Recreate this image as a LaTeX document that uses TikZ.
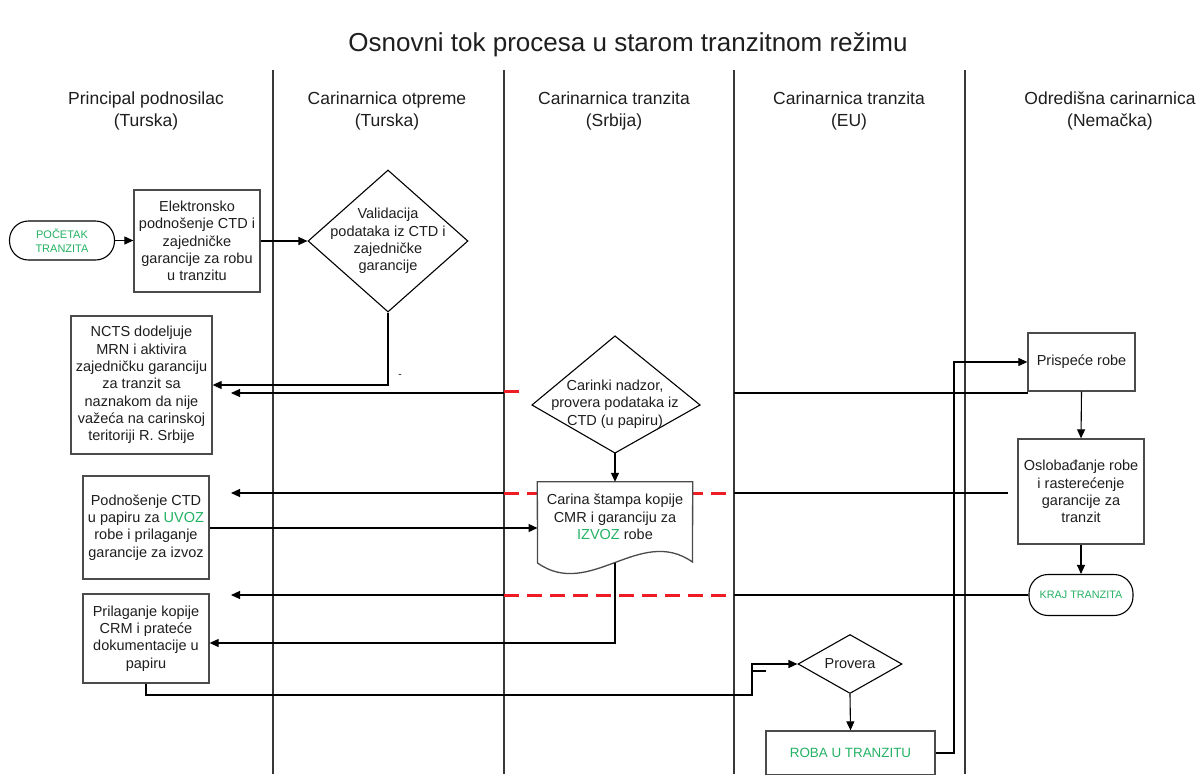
\documentclass[tikz,border=0pt]{standalone}
\usepackage{fontspec}
\setmainfont{Liberation Sans}
\usetikzlibrary{shapes.geometric,arrows.meta}

\definecolor{tgreen}{RGB}{36,178,100}
\definecolor{lanegray}{RGB}{55,55,55}
\definecolor{boxgray}{RGB}{75,75,75}
\definecolor{txtgray}{RGB}{30,30,30}
\definecolor{dashred}{RGB}{238,28,36}

\newcommand\bodyfont{\fontsize{14.5}{17.3}\selectfont}
\newcommand\headfont{\fontsize{17.5}{22}\selectfont}

\begin{document}
\begin{tikzpicture}[x=1pt,y=-1pt,
  lane/.style={draw=lanegray, line width=1.1pt},
  box/.style={draw=boxgray, line width=1.3pt, fill=white, align=center,
    inner sep=1pt, font=\bodyfont, text=txtgray},
  term/.style={draw=black, line width=1.1pt, fill=white, rounded corners=19pt,
    align=center, inner sep=1pt, text=tgreen},
  dia/.style={diamond, draw=black, line width=1.1pt, fill=white, inner sep=0pt},
  txt/.style={align=center, font=\bodyfont, text=txtgray, inner sep=0pt},
  head/.style={align=center, font=\headfont, text=txtgray},
  line/.style={draw=black, line width=1.1pt},
  conn/.style={line, -{Triangle[length=9pt,width=8pt]}},
  reddash/.style={draw=dashred, line width=3pt, dash pattern=on 15pt off 8pt},
]
\clip (0,0) rectangle (1197,774);
\fill[white] (0,0) rectangle (1197,774);

% title and lane headers
\node[font=\fontsize{26}{30}\selectfont, text=txtgray] (title) at (628,45)
  {Osnovni tok procesa u starom tranzitnom režimu};
\node[head] (h1) at (146,111) {Principal podnosilac\\(Turska)};
\node[head] (h2) at (387,111) {Carinarnica otpreme\\(Turska)};
\node[head] (h3) at (614,111) {Carinarnica tranzita\\(Srbija)};
\node[head] (h4) at (849,111) {Carinarnica tranzita\\(EU)};
\node[head] (h5) at (1110,111) {Odredišna carinarnica\\(Nemačka)};

% swimlane separators
\foreach \x in {273,504,734,965}
  \draw[lane] (\x,70) -- (\x,774);

% dashed red markers across the Serbian lane (behind the shapes)
\coordinate (ra) at (504,391);
\coordinate (rb) at (519,391);
\coordinate (rc) at (504,493);
\coordinate (rd) at (734,493);
\coordinate (re) at (504,595);
\coordinate (rf) at (734,595);
\draw[reddash] (ra) -- (rb);
\draw[reddash] (rc) -- (rd);
\draw[reddash] (re) -- (rf);

% process steps
\node[term, minimum width=105, minimum height=39,
  font=\fontsize{11}{14}\selectfont] (start) at (62,240.5) {POČETAK\\TRANZITA};
\node[box, minimum width=126, minimum height=102] (elek) at (197,241)
  {Elektronsko\\podnošenje CTD i\\zajedničke\\garancije za robu\\u tranzitu};
\node[dia, minimum width=160, minimum height=142] (val) at (388,241) {};
\node[txt] (valtext) at (388,241)
  {Validacija\\podataka iz CTD i\\zajedničke\\garancije};

\node[box, minimum width=141, minimum height=138] (ncts) at (141.5,385)
  {NCTS dodeljuje\\MRN i aktivira\\zajedničku garanciju\\za tranzit sa\\naznakom da nije\\važeća na carinskoj\\teritoriji R. Srbije};

% customs supervision decision (kite-shaped)
\coordinate (nz-n) at (615,336);
\coordinate (nz-e) at (700,405);
\coordinate (nz-s) at (615,453);
\coordinate (nz-w) at (532,405);
\draw[line, fill=white] (nz-n) -- (nz-e) -- (nz-s) -- (nz-w) -- cycle;
\node[txt] (nadzor) at (615,404)
  {Carinki nadzor,\\provera podataka iz\\CTD (u papiru)};

% printed document
\node[minimum width=155, minimum height=80, inner sep=0pt] (doc) at (615,522) {};
\draw[line, draw=boxgray, line width=1.3pt, fill=white]
  (doc.north west) -- (doc.north east) -- (692.5,562)
  .. controls (640,525) and (590,600) .. (537.5,563) -- cycle;
\coordinate (doc-b) at (615,562.5);
\node[txt] (doctext) at (615,517)
  {Carina štampa kopije\\CMR i garanciju za\\{\color{tgreen}IZVOZ} robe};

\node[box, minimum width=126, minimum height=103] (uvoz) at (146,527.5)
  {Podnošenje CTD\\u papiru za {\color{tgreen}UVOZ}\\robe i prilaganje\\garancije za izvoz};
\node[box, minimum width=126, minimum height=89] (prilag) at (146,638.5)
  {Prilaganje kopije\\CRM i prateće\\dokumentacije u\\papiru};

\node[dia, minimum width=104, minimum height=59] (prov) at (850,664) {};
\node[txt] (provtext) at (850,664) {Provera};
\node[box, minimum width=169, minimum height=44, text=tgreen,
  font=\fontsize{13.4}{16}\selectfont] (roba) at (850.5,753) {ROBA U TRANZITU};

\node[box, minimum width=107, minimum height=58] (prisp) at (1081.5,362) {Prispeće robe};
\node[box, minimum width=126, minimum height=105] (osl) at (1081,491.5)
  {Oslobađanje robe\\i rasterećenje\\garancije za\\tranzit};
\node[term, minimum width=104, minimum height=41,
  font=\fontsize{10.8}{13}\selectfont] (kraj) at (1081,595) {KRAJ TRANZITA};

% connectors
\draw[conn] (start.east) -- (start.east -| elek.west);
\draw[conn] (elek.east) -- (val.west);
\draw[conn] (val.south) |- (ncts.east);
\node[font=\fontsize{10}{12}\selectfont] (dashmark) at (400,376) {-};

\coordinate (l1a) at (1028,393);
\coordinate (l1b) at (734,393);
\coordinate (l1c) at (504,393);
\coordinate (l1d) at (231,393);
\draw[line] (l1a) -- (l1b);
\draw[conn] (l1c) -- (l1d);

\draw[conn] (nz-s) -- (doc.north);

\coordinate (l2a) at (1008,493);
\coordinate (l2b) at (734,493);
\coordinate (l2c) at (504,493);
\coordinate (l2d) at (231,493);
\draw[line] (l2a) -- (l2b);
\draw[conn] (l2c) -- (l2d);

\draw[conn] (uvoz.east |- 0,528) -- (537.5,528);

\coordinate (l3b) at (734,595);
\coordinate (l3c) at (504,595);
\coordinate (l3d) at (231,595);
\draw[line] (kraj.west) -- (l3b);
\draw[conn] (l3c) -- (l3d);

\draw[conn] (doc-b) |- ([yshift=-4.5pt]prilag.east);

\coordinate (bend1) at (752,695);
\draw[conn] (prilag.south) |- (bend1) |- (prov.west);
\coordinate (stub1) at (752,671);
\coordinate (stub2) at (766,671);
\draw[line] (stub1) -- (stub2);

\draw[conn] (prov.south) -- (roba.north);

\coordinate (bend2) at (954,362);
\draw[conn] (roba.east) -| (bend2) -- (prisp.west);
\draw[conn] (prisp.south) -- (osl.north);
\draw[conn] (osl.south) -- (kraj.north);
\end{tikzpicture}
\end{document}
